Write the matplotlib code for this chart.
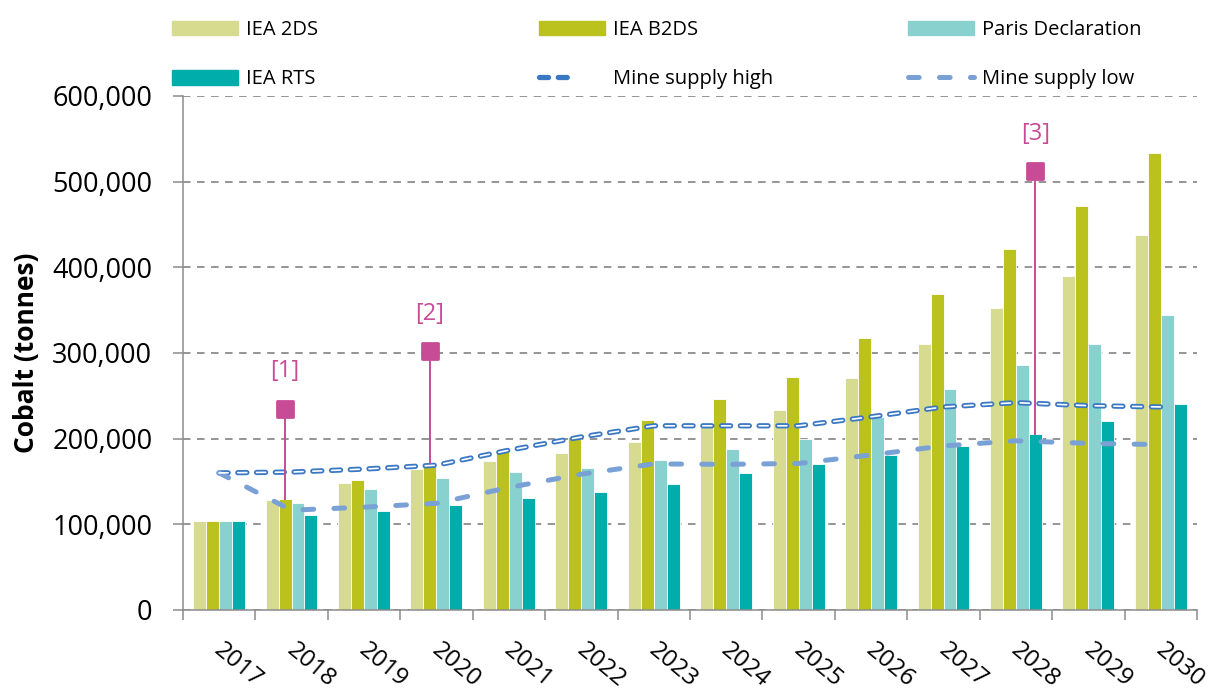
import matplotlib
matplotlib.use("Agg")
import matplotlib.pyplot as plt
import numpy as np
from matplotlib.markers import MarkerStyle
from matplotlib.patches import Patch
from matplotlib.lines import Line2D
from matplotlib.legend_handler import HandlerTuple
from matplotlib.ticker import FuncFormatter

plt.rcParams["font.family"] = ["Open Sans", "DejaVu Sans"]
plt.rcParams["lines.scale_dashes"] = False

# Cobalt demand scenarios vs mine supply (tonnes)
years = [2017, 2018, 2019, 2020, 2021, 2022, 2023, 2024, 2025, 2026, 2027, 2028, 2029, 2030]
iea_2ds = [104000, 128000, 148000, 164500, 174000, 183000, 196500, 215000, 233500, 271000, 311000, 352500, 390000, 438000]
iea_b2ds = [104000, 129500, 151500, 171000, 187000, 201500, 221500, 246000, 272000, 317500, 368500, 421000, 472000, 534000]
paris = [104000, 125000, 141500, 154500, 160500, 165500, 175000, 187500, 200000, 225500, 257500, 286500, 310500, 344000]
iea_rts = [104000, 111000, 115500, 122500, 130500, 138000, 147500, 159500, 170000, 181000, 191500, 206000, 220500, 241000]
mine_high = [160000, 161000, 164500, 169000, 186500, 202000, 215000, 215000, 215000, 225500, 237000, 242000, 238500, 237000]
mine_low = [160000, 116500, 120000, 124500, 143000, 158500, 170500, 170000, 171000, 181000, 191500, 197500, 194500, 193000]

# footnote markers: label, year, bar it points to, marker height
notes = ["[1]", "[2]", "[3]"]
note_year = [2018, 2020, 2028]
note_series = [1, 1, 3]
note_value = [235000, 302000, 512000]

labels = ["IEA 2DS", "IEA B2DS", "Paris Declaration", "IEA RTS"]
series = [iea_2ds, iea_b2ds, paris, iea_rts]
colors = ["#d7db8f", "#bbc21e", "#88d1cf", "#00adaa"]
c_high = "#3a78c4"
c_low = "#7aa1d6"
c_note = "#c84b96"
c_axis = "#8c8c8c"

fig = plt.figure(figsize=(12.19, 6.96), dpi=100)
ax = fig.add_axes([0.150, 0.1236, 0.832, 0.7385])

x = np.arange(len(years))
w = 0.179
offsets = (np.arange(4) - 1.5) * w
for s, vals, col, off in zip(labels, series, colors, offsets):
    ax.bar(x + off, vals, w, color=col, edgecolor="white", linewidth=0.6, label=s, zorder=2)

# mine supply lines: high is a blue dash with a white core
high_kw = dict(dashes=(6.5, 7.0), dash_capstyle="round")
ax.plot(x, mine_high, color=c_high, lw=3.8, zorder=4, **high_kw)
ax.plot(x, mine_high, color="white", lw=1.2, zorder=5, **high_kw)
low_kw = dict(color=c_low, lw=3.6, dashes=(7.7, 14.6), dash_capstyle="round")
ax.plot(x, mine_low, zorder=4, **low_kw)

# footnote markers with leader lines
sq = MarkerStyle("s", joinstyle="round")
for txt, yr, si, val in zip(notes, note_year, note_series, note_value):
    i = years.index(yr)
    xp = i + offsets[si]
    top = series[si][i]
    ax.plot([xp, xp], [top, val], color=c_note, lw=1.4, zorder=6)
    ax.plot(xp, val, marker=sq, ms=11.5, mfc=c_note, mec=c_note, mew=2, zorder=7)
    ax.annotate(txt, (xp, val), xytext=(0, 27), textcoords="offset points",
                ha="center", va="center", fontsize=17, color=c_note, zorder=7)

ax.set_xlim(-0.5, len(years) - 0.5)
ax.set_ylim(0, 600000)
ax.set_yticks(np.arange(0, 600001, 100000))
ax.yaxis.set_major_formatter(FuncFormatter(lambda v, p: f"{int(v):,}"))
ax.grid(axis="y", color=c_axis, ls=(0, (5.4, 4.7)), lw=1.3, zorder=1)
ax.set_axisbelow(True)

ax.set_xticks(np.arange(-0.5, len(years), 1))
ax.set_xticklabels([])
ax.tick_params(axis="x", length=7, width=1.1, color=c_axis, direction="out")
ax.tick_params(axis="y", length=7, width=1.1, color=c_axis, direction="out",
               labelsize=19.5, pad=15)
for yr, xi in zip(years, x):
    ax.annotate(str(yr), (xi, 0), xycoords=("data", "axes fraction"),
                xytext=(-1.5, -26.6), textcoords="offset points", rotation=-40,
                rotation_mode="anchor", ha="left", va="center", fontsize=17.5)

for side in ["top", "right"]:
    ax.spines[side].set_visible(False)
for side in ["left", "bottom"]:
    ax.spines[side].set_color(c_axis)
    ax.spines[side].set_linewidth(1.1)

ax.set_ylabel("Cobalt (tonnes)", fontsize=19, fontweight="bold")
ax.yaxis.set_label_coords(-0.141, 0.5)

# legend, three columns of two rows
high_leg = (Line2D([], [], color=c_high, lw=3.8, **high_kw),
            Line2D([], [], color="white", lw=1.2, **high_kw))
low_leg = Line2D([], [], **low_kw)
leg_kw = dict(loc="upper left", frameon=False, borderpad=0, borderaxespad=0,
              handlelength=3.3, handleheight=0.75, handletextpad=0.35,
              labelspacing=1.45, fontsize=14.5,
              handler_map={tuple: HandlerTuple(ndivide=None)})
cols = [
    ([Patch(color=colors[0]), Patch(color=colors[3])], ["IEA 2DS", "IEA RTS"], 172),
    ([Patch(color=colors[1]), high_leg], ["IEA B2DS", "Mine supply high"], 539),
    ([Patch(color=colors[2]), low_leg], ["Paris Declaration", "Mine supply low"], 908),
]
for h, l, px in cols:
    fig.legend(h, l, bbox_to_anchor=(px / 1219, 1 - 20 / 696), **leg_kw)

fig.savefig("out.png", dpi=100)
